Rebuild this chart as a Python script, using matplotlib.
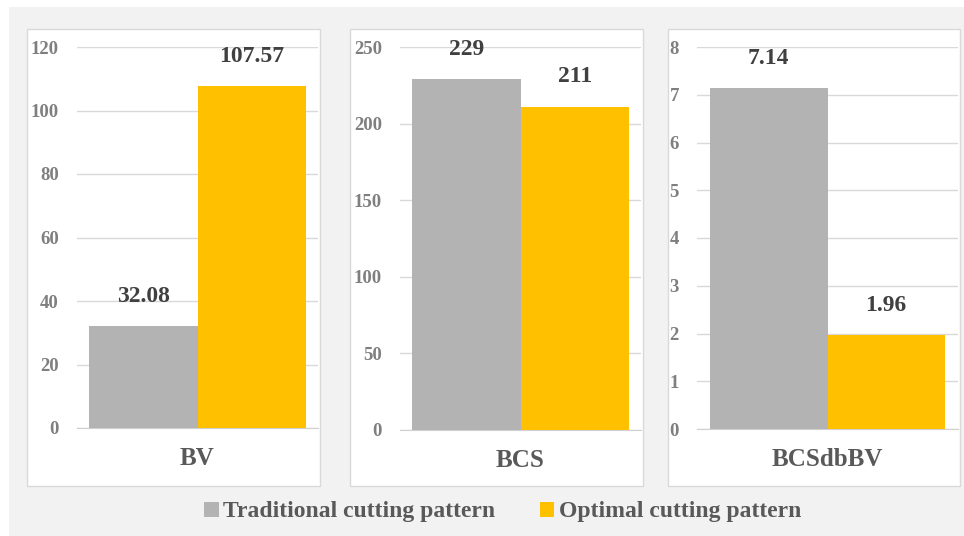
"""
    bar panels: traditional vs optimal cutting pattern
"""

import matplotlib.pyplot as plt
from matplotlib.patches import Rectangle

# Data
metrics = ["BV", "BCS", "BCSdbBV"]
traditional = [32.08, 229, 7.14]
optimal = [107.57, 211, 1.96]
traditional_labels = ["32.08", "229", "7.14"]
optimal_labels = ["107.57", "211", "1.96"]
y_max = [120, 250, 8]
y_step = [20, 50, 1]
series_names = ["Traditional cutting pattern", "Optimal cutting pattern"]

GRAY = "#b3b3b3"
YELLOW = "#ffc000"
W, H = 964, 536

plt.rcParams["font.family"] = ["Liberation Serif", "DejaVu Serif"]
plt.rcParams["font.weight"] = "bold"


def px_box(x0, y0, x1, y1):
    """pixel box (from top-left) to figure fractions"""
    return [x0 / W, 1 - y1 / H, (x1 - x0) / W, (y1 - y0) / H]


fig = plt.figure(figsize=(W / 100, H / 100), dpi=100)
fig.patch.set_facecolor("white")

# outer light gray background
fig.patches.append(Rectangle((9 / W, 0), 1 - 9 / W, 1 - 7 / H,
                             transform=fig.transFigure, facecolor="#f2f2f2",
                             edgecolor="none", zorder=0))

# white panels and plot areas (pixels)
panels = [(27, 29, 320, 486), (350, 29, 643, 486), (668, 29, 960, 486)]
plot_areas = [(77, 47, 318, 428), (400, 47, 641, 430), (697, 47, 958, 429)]

handles = []
for i, name in enumerate(metrics):
    px0, py0, px1, py1 = panels[i]
    fig.patches.append(Rectangle((px0 / W, 1 - py1 / H), (px1 - px0) / W,
                                 (py1 - py0) / H, transform=fig.transFigure,
                                 facecolor="white", edgecolor="#d9d9d9",
                                 linewidth=1, zorder=1))

    ax = fig.add_axes(px_box(*plot_areas[i]))
    ax.set_facecolor("none")
    ax.set_zorder(2)

    b1 = ax.bar(-0.225, traditional[i], width=0.45, color=GRAY, zorder=3)
    b2 = ax.bar(0.225, optimal[i], width=0.45, color=YELLOW, zorder=3)
    if i == 0:
        handles = [b1, b2]

    for bar, txt in [(b1[0], traditional_labels[i]), (b2[0], optimal_labels[i])]:
        ax.annotate(txt, (bar.get_x() + bar.get_width() / 2, bar.get_height()),
                    xytext=(0, 14), textcoords="offset points",
                    ha="center", va="bottom", fontsize=17,
                    fontweight="bold", color="#404040", zorder=4)

    ax.set_xlim(-0.5, 0.5)
    ax.set_ylim(0, y_max[i])
    ax.set_yticks(range(0, y_max[i] + 1, y_step[i]))
    ax.set_xticks([0])
    ax.set_xticklabels([name], fontsize=18, fontweight="bold", color="#595959")

    ax.yaxis.grid(True, color="#d9d9d9", linewidth=1)
    ax.set_axisbelow(True)
    for side in ["top", "right", "left"]:
        ax.spines[side].set_visible(False)
    ax.spines["bottom"].set_color("#d0d0d0")
    ax.tick_params(axis="y", length=0, pad=13, labelsize=13.5,
                   labelcolor="#7f7f7f")
    ax.tick_params(axis="x", length=0, pad=14)
    for lbl in ax.get_yticklabels():
        lbl.set_fontweight("bold")

# legend
leg = fig.legend(handles, series_names, loc="center",
                 bbox_to_anchor=(503 / W, 1 - 512 / H), ncol=2,
                 frameon=False, fontsize=17, handlelength=0.6,
                 handleheight=0.6, handletextpad=0.2, columnspacing=1.9,
                 labelcolor="#595959")
for t in leg.get_texts():
    t.set_fontweight("bold")

plt.savefig("out.png", dpi=100)
